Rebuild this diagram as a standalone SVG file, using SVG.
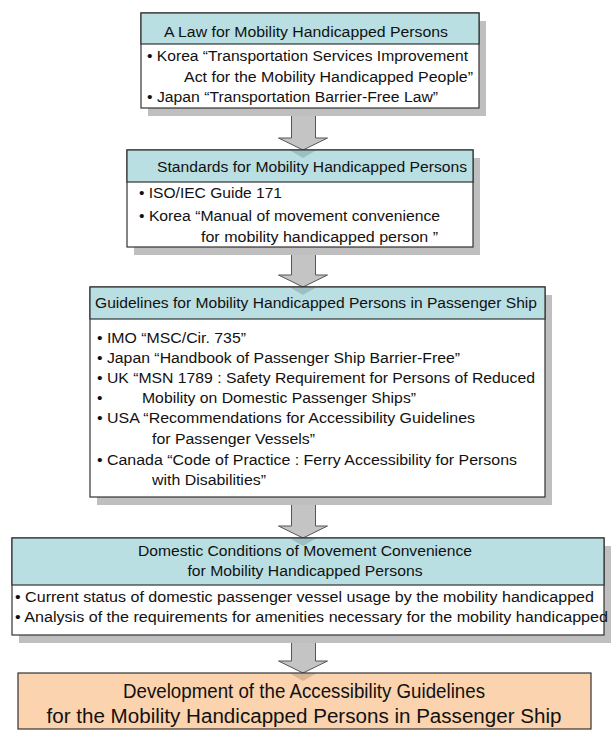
<svg xmlns="http://www.w3.org/2000/svg" width="611" height="731" viewBox="0 0 611 731">
<style>
.shadow{fill:#bfbfbf}
.box{fill:#ffffff;stroke:#333333;stroke-width:1.2}
.hdr{fill:#b9dfe2;stroke:#333333;stroke-width:1.2}
.fin{fill:#fbd3ae;stroke:#333333;stroke-width:1.2}
.arrow{fill:#c4c4c4;stroke:#555555;stroke-width:1}
.tip{fill:#000000;fill-opacity:0.14}
text{font-family:"Liberation Sans",Arial,sans-serif;font-size:15.5px;fill:#111111}
.big{font-size:20px}
</style>
<rect width="611" height="731" fill="#ffffff"/>
<g id="connectors">
<path class="arrow" d="M291.5,108 V138 H278.5 L303,150 L327.5,138 H315.5 V108"/>
<path class="arrow" d="M291.5,247 V275 H278.5 L303,287 L327.5,275 H315.5 V247"/>
<path class="arrow" d="M291.5,497 V526 H278.5 L303,538 L327.5,526 H315.5 V497"/>
<path class="arrow" d="M291.5,635 V661 H278.5 L303,673 L327.5,661 H315.5 V635"/>
</g>
<g id="law">
<rect class="shadow" x="148" y="21" width="338" height="95"/>
<rect class="box" x="141" y="13" width="338" height="95"/>
<rect class="hdr" x="141" y="13" width="338" height="31"/>
<text x="164" y="37" textLength="284" lengthAdjust="spacingAndGlyphs">A Law for Mobility Handicapped Persons</text>
<text x="147" y="61" textLength="321" lengthAdjust="spacingAndGlyphs">• Korea “Transportation Services Improvement</text>
<text x="184" y="82" textLength="289" lengthAdjust="spacingAndGlyphs">Act for the Mobility Handicapped People”</text>
<text x="147" y="102" textLength="291" lengthAdjust="spacingAndGlyphs">• Japan “Transportation Barrier-Free Law”</text>
</g>
<g id="standards">
<rect class="shadow" x="134" y="158" width="346" height="97"/>
<rect class="box" x="127" y="150" width="346" height="97"/>
<rect class="hdr" x="127" y="150" width="346" height="32"/>
<path class="tip" d="M290,150.6 H316 L303,158 Z"/>
<text x="157" y="172" textLength="310" lengthAdjust="spacingAndGlyphs">Standards for Mobility Handicapped Persons</text>
<text x="139" y="198" textLength="143" lengthAdjust="spacingAndGlyphs">• ISO/IEC Guide 171</text>
<text x="139" y="221" textLength="301" lengthAdjust="spacingAndGlyphs">• Korea “Manual of movement convenience</text>
<text x="201" y="242" textLength="237" lengthAdjust="spacingAndGlyphs">for mobility handicapped person ”</text>
</g>
<g id="guidelines">
<rect class="shadow" x="97" y="295" width="455" height="210"/>
<rect class="box" x="90" y="287" width="455" height="210"/>
<rect class="hdr" x="90" y="287" width="455" height="32"/>
<path class="tip" d="M290,287.6 H316 L303,295 Z"/>
<text x="95" y="308" textLength="442" lengthAdjust="spacingAndGlyphs">Guidelines for Mobility Handicapped Persons in Passenger Ship</text>
<text x="97" y="343" textLength="149" lengthAdjust="spacingAndGlyphs">• IMO “MSC/Cir. 735”</text>
<text x="97" y="363" textLength="363" lengthAdjust="spacingAndGlyphs">• Japan “Handbook of Passenger Ship Barrier-Free”</text>
<text x="97" y="383" textLength="438" lengthAdjust="spacingAndGlyphs">• UK “MSN 1789 : Safety Requirement for Persons of Reduced</text>
<text x="97" y="403">•</text>
<text x="142" y="403" textLength="274" lengthAdjust="spacingAndGlyphs">Mobility on Domestic Passenger Ships”</text>
<text x="97" y="423" textLength="378" lengthAdjust="spacingAndGlyphs">• USA “Recommendations for Accessibility Guidelines</text>
<text x="152" y="444" textLength="163" lengthAdjust="spacingAndGlyphs">for Passenger Vessels”</text>
<text x="97" y="465" textLength="420" lengthAdjust="spacingAndGlyphs">• Canada “Code of Practice : Ferry Accessibility for Persons</text>
<text x="152" y="485" textLength="114" lengthAdjust="spacingAndGlyphs">with Disabilities”</text>
</g>
<g id="domestic">
<rect class="shadow" x="19" y="546" width="592" height="97"/>
<rect class="box" x="12" y="538" width="592" height="97"/>
<rect class="hdr" x="12" y="538" width="592" height="47"/>
<path class="tip" d="M290,538.6 H316 L303,546 Z"/>
<text x="305" y="556" text-anchor="middle" textLength="334" lengthAdjust="spacingAndGlyphs">Domestic Conditions of Movement Convenience</text>
<text x="305" y="576" text-anchor="middle" textLength="235" lengthAdjust="spacingAndGlyphs">for Mobility Handicapped Persons</text>
<text x="15" y="602" textLength="579" lengthAdjust="spacingAndGlyphs">• Current status of domestic passenger vessel usage by the mobility handicapped</text>
<text x="15" y="622" textLength="593" lengthAdjust="spacingAndGlyphs">• Analysis of the requirements for amenities necessary for the mobility handicapped</text>
</g>
<g id="development">
<rect class="fin" x="18" y="673" width="573" height="56"/>
<path class="tip" d="M290,673.6 H316 L303,681 Z"/>
<text class="big" x="304" y="698" text-anchor="middle" textLength="362" lengthAdjust="spacingAndGlyphs">Development of the Accessibility Guidelines</text>
<text class="big" x="304" y="723" text-anchor="middle" textLength="515" lengthAdjust="spacingAndGlyphs">for the Mobility Handicapped Persons in Passenger Ship</text>
</g>
</svg>
